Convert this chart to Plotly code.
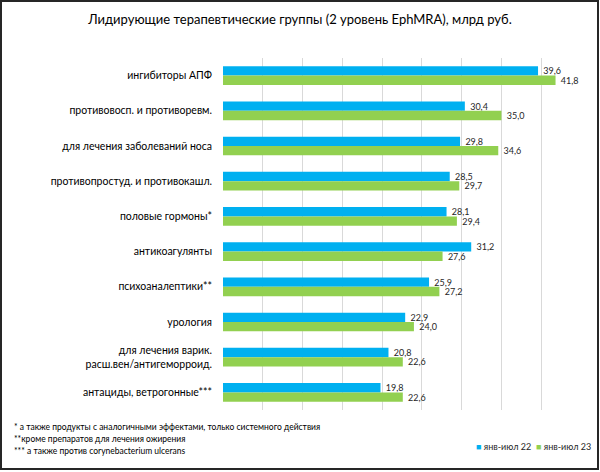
import plotly.graph_objects as go

categories = [
    "ингибиторы АПФ",
    "противовосп. и противоревм.",
    "для лечения заболеваний носа",
    "противопростуд. и противокашл.",
    "половые гормоны*",
    "антикоагулянты",
    "психоаналептики**",
    "урология",
    "для лечения варик.<br>расш.вен/антигеморроид.",
    "антациды, ветрогонные***",
]
v22 = [39.6, 30.4, 29.8, 28.5, 28.1, 31.2, 25.9, 22.9, 20.8, 19.8]
v23 = [41.8, 35.0, 34.6, 29.7, 29.4, 27.6, 27.2, 24.0, 22.6, 22.6]
series_names = ["янв-июл 22", "янв-июл 23"]
footnotes = [
    "* а также продукты с аналогичными эффектами, только системного действия",
    "**кроме препаратов для лечения ожирения",
    "*** а также против corynebacterium ulcerans",
]
title = "Лидирующие терапевтические группы (2 уровень EphMRA), млрд руб."

C_BLUE = "#00B0F0"
C_GREEN = "#92D050"
FONT = "Lato"

W, H = 600, 472
L, R, T, B = 223, 19, 58, 62
PW, PH = W - L - R, H - T - B


def px_x(px):
    return (px - L) / PW


def px_y(py):
    return (H - B - py) / PH


fig = go.Figure()
for name, vals, col in [(series_names[0], v22, C_BLUE), (series_names[1], v23, C_GREEN)]:
    fig.add_trace(go.Bar(
        y=categories, x=vals, name=name, orientation="h",
        marker=dict(color=col, line=dict(width=0)),
        texttemplate=" %{x:.1f}", textposition="outside",
        constraintext="none",
        textfont=dict(family=FONT, size=9, color="#262626"),
        cliponaxis=False,
    ))

fig.update_layout(
    width=W, height=H,
    margin=dict(l=L, r=R, t=T, b=B),
    barmode="group", bargap=0.47, bargroupgap=0,
    separators=", ",
    paper_bgcolor="white", plot_bgcolor="white",
    showlegend=False,
    font=dict(family=FONT, color="#000000"),
    title=dict(text=title, x=0.5, xref="container", xanchor="center",
               y=1 - 19 / H, yref="container", yanchor="middle",
               font=dict(family=FONT, size=13, color="#000000")),
    xaxis=dict(range=[0, 45], dtick=5, showticklabels=False, showgrid=True,
               gridcolor="#D9D9D9", gridwidth=1, zeroline=False, showline=False,
               fixedrange=True),
    yaxis=dict(autorange="reversed", showgrid=False, showline=False, ticks="",
               ticklabelstandoff=10,
               tickfont=dict(family=FONT, size=10.5, color="#000000")),
)

# outer frame
fig.add_shape(type="rect", xref="paper", yref="paper",
              x0=px_x(1), x1=px_x(598), y0=px_y(469), y1=px_y(1),
              line=dict(color="#262626", width=2), fillcolor="rgba(0,0,0,0)", layer="above")

for i, t in enumerate(footnotes):
    fig.add_annotation(text=t, xref="paper", yref="paper", x=px_x(12), y=px_y(427 + 12 * i),
                       xanchor="left", yanchor="middle", showarrow=False,
                       font=dict(family=FONT, size=8.5, color="#000000"))

# legend (manual)
for name, col, xpos in [(series_names[0], C_BLUE, 474), (series_names[1], C_GREEN, 534)]:
    fig.add_annotation(text=f"<span style='color:{col}'>■</span> {name}", xref="paper", yref="paper",
                       x=px_x(xpos), y=px_y(446), xanchor="left", yanchor="middle",
                       showarrow=False, font=dict(family=FONT, size=9, color="#262626"))

fig.write_html("out.html")
